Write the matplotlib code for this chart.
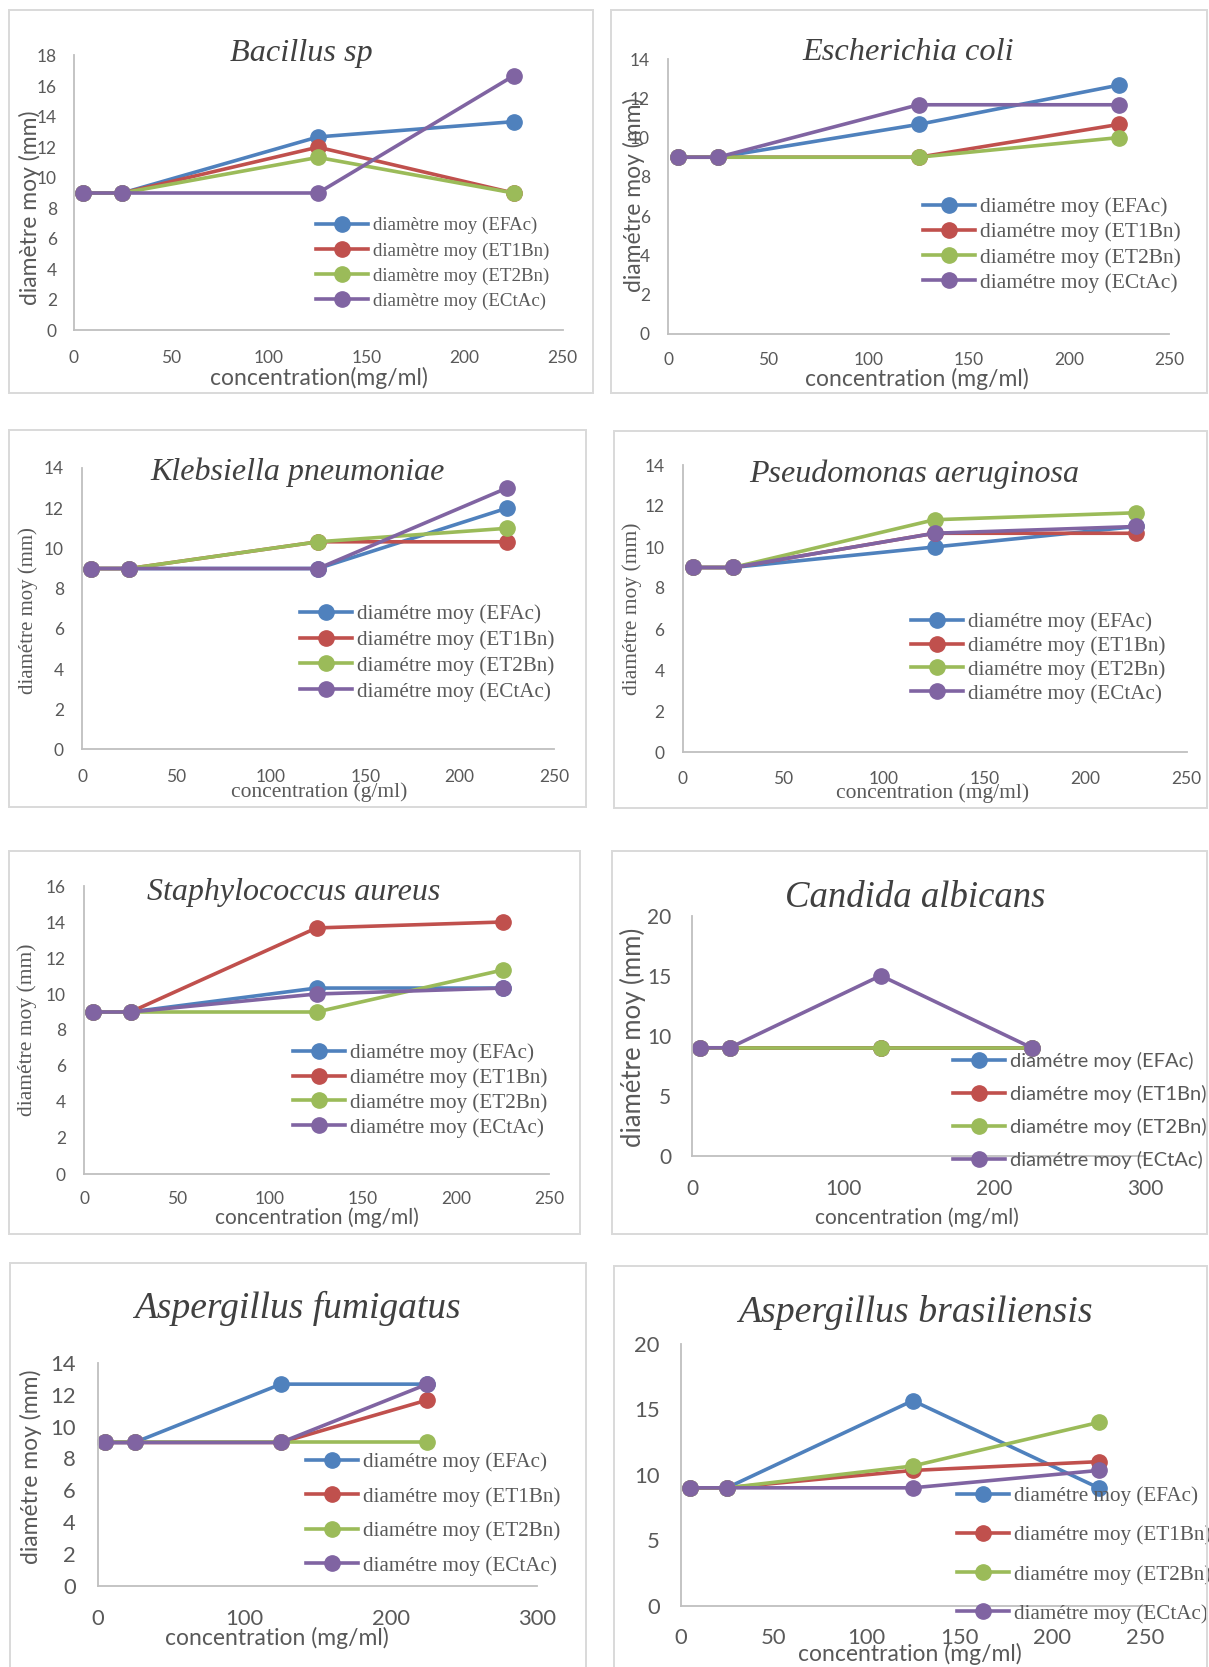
import matplotlib
matplotlib.use("Agg")
import matplotlib.pyplot as plt
from matplotlib.patches import Rectangle

W, H = 1209, 1667
SANS = "Lato"
SERIF = "Liberation Serif"

conc = [5, 25, 125, 225]
extracts = ["EFAc", "ET1Bn", "ET2Bn", "ECtAc"]
colors = ["#4F81BD", "#C0504D", "#9BBB59", "#8064A2"]

# mean inhibition diameter (mm), one list per extract: EFAc, ET1Bn, ET2Bn, ECtAc
bacillus = [[9, 9, 12.67, 13.67], [9, 9, 12, 9], [9, 9, 11.33, 9], [9, 9, 9, 16.67]]
ecoli = [[9, 9, 10.67, 12.67], [9, 9, 9, 10.67], [9, 9, 9, 10], [9, 9, 11.67, 11.67]]
klebsiella = [[9, 9, 9, 12], [9, 9, 10.33, 10.33], [9, 9, 10.33, 11], [9, 9, 9, 13]]
pseudomonas = [[9, 9, 10, 11], [9, 9, 10.67, 10.67], [9, 9, 11.33, 11.67], [9, 9, 10.67, 11]]
staph = [[9, 9, 10.33, 10.33], [9, 9, 13.67, 14], [9, 9, 9, 11.33], [9, 9, 10, 10.33]]
candida = [[9, 9, 9, 9], [9, 9, 9, 9], [9, 9, 9, 9], [9, 9, 15, 9]]
fumigatus = [[9, 9, 12.67, 12.67], [9, 9, 9, 11.67], [9, 9, 9, 9], [9, 9, 9, 12.67]]
brasiliensis = [[9, 9, 15.67, 9], [9, 9, 10.33, 11], [9, 9, 10.67, 14], [9, 9, 9, 10.33]]

# layout, in pixels of the 1209x1667 picture
panels = [
    dict(data=bacillus, title="Bacillus sp", prefix="diamètre moy",
         ylabel="diamètre moy (mm)", xlabel="concentration(mg/ml)",
         ymax=18, ystep=2, xmax=250, xstep=50,
         box=(8.5, 10.5, 593, 393.5), ax=(73.5, 562.5, 330.5, 55.5),
         title_at=(301, 61, 23.2), ylab_at=(30, 208, 16.5, SANS),
         xlab_at=(319, 378, 16.5, SANS), leg=(316, 225, 302, 13.6, SERIF),
         tick=12.5, xpad=14, ypad=12),
    dict(data=ecoli, title="Escherichia coli", prefix="diamétre moy",
         ylabel="diamétre moy (mm)", xlabel="concentration (mg/ml)",
         ymax=14, ystep=2, xmax=250, xstep=50,
         box=(611, 10.5, 1207, 393.5), ax=(668, 1169, 334, 59),
         title_at=(908, 60, 23.3), ylab_at=(634, 195, 16.5, SANS),
         xlab_at=(917, 379, 16.5, SANS), leg=(923, 207, 283, 15.5, SERIF),
         tick=12.5, xpad=13, ypad=13),
    dict(data=klebsiella, title="Klebsiella pneumoniae", prefix="diamétre moy",
         ylabel="diamétre moy (mm)", xlabel="concentration (g/ml)",
         ymax=14, ystep=2, xmax=250, xstep=50,
         box=(8.5, 430.5, 585.5, 806.5), ax=(82, 554, 749.5, 468),
         title_at=(298, 480, 23), ylab_at=(28, 611, 15, SERIF),
         xlab_at=(319, 792, 15.5, SERIF), leg=(300, 614, 692, 15.2, SERIF),
         tick=12.5, xpad=14, ypad=13),
    dict(data=pseudomonas, title="Pseudomonas aeruginosa", prefix="diamétre moy",
         ylabel="diamétre moy (mm)", xlabel="concentration (mg/ml)",
         ymax=14, ystep=2, xmax=250, xstep=50,
         box=(613.5, 431.5, 1207, 808), ax=(682.5, 1186.5, 752, 465),
         title_at=(914, 482, 23), ylab_at=(632, 609, 15.5, SERIF),
         xlab_at=(933, 793, 15.5, SERIF), leg=(911, 622, 694, 15.2, SERIF),
         tick=12.5, xpad=13.5, ypad=13),
    dict(data=staph, title="Staphylococcus aureus", prefix="diamétre moy",
         ylabel="diamétre moy (mm)", xlabel="concentration (mg/ml)",
         ymax=16, ystep=2, xmax=250, xstep=50,
         box=(8.5, 850.5, 580, 1233.5), ax=(84, 549, 1174, 886),
         title_at=(294, 900, 23), ylab_at=(27, 1030, 15.5, SERIF),
         xlab_at=(317, 1218, 15, SANS), leg=(293, 1053, 1128, 15.2, SERIF),
         tick=12.5, xpad=12.5, ypad=13),
    dict(data=candida, title="Candida albicans", prefix="diamétre moy",
         ylabel="diamétre moy (mm)", xlabel="concentration (mg/ml)",
         ymax=20, ystep=5, xmax=300, xstep=100,
         box=(611.5, 851, 1207, 1233.5), ax=(692, 1145, 1156, 915.5),
         title_at=(915, 907, 26.5), ylab_at=(633, 1037, 18.5, SANS),
         xlab_at=(917, 1218, 15, SANS), leg=(953, 1060, 1161, 14.5, SANS),
         tick=15, xpad=16.5, ypad=15),
    dict(data=fumigatus, title="Aspergillus fumigatus", prefix="diamétre moy",
         ylabel="diamétre moy (mm)", xlabel="concentration (mg/ml)",
         ymax=14, ystep=2, xmax=300, xstep=100,
         box=(10, 1263, 586, 1720), ax=(98, 537, 1585.5, 1363),
         title_at=(297, 1318, 27), ylab_at=(31, 1467, 16.5, SANS),
         xlab_at=(277, 1638, 16.5, SANS), leg=(306, 1462, 1566, 15.2, SERIF),
         tick=15.8, xpad=17, ypad=16),
    dict(data=brasiliensis, title="Aspergillus brasiliensis", prefix="diamétre moy",
         ylabel=None, xlabel="concentration (mg/ml)",
         ymax=20, ystep=5, xmax=250, xstep=50,
         box=(614, 1266, 1207, 1720), ax=(680.5, 1145, 1605.5, 1344),
         title_at=(915, 1322, 27.2), ylab_at=None,
         xlab_at=(910, 1654, 16.5, SANS), leg=(957, 1496, 1614, 15.2, SERIF),
         tick=15.8, xpad=16.5, ypad=15),
]


def fx(px):
    return px / W


def fy(py):
    return 1 - py / H


plt.rcParams["font.family"] = [SANS, "DejaVu Sans"]
fig = plt.figure(figsize=(W / 100, H / 100), dpi=100)

for p in panels:
    l, t, r, b = p["box"]
    fig.add_artist(Rectangle((fx(l), fy(b)), (r - l) / W, (b - t) / H,
                             transform=fig.transFigure, fill=False,
                             edgecolor="#D9D9D9", linewidth=1.4))

    x0, x1, y0, y1 = p["ax"]
    ax = fig.add_axes([fx(x0), fy(y0), (x1 - x0) / W, (y0 - y1) / H])
    ax.patch.set_alpha(0)
    for series, name, c in zip(p["data"], extracts, colors):
        ax.plot(conc, series, color=c, linewidth=2.6, marker="o",
                markersize=11, clip_on=False,
                label=f"{p['prefix']} ({name})")

    ax.set_xlim(0, p["xmax"])
    ax.set_ylim(0, p["ymax"])
    ax.set_xticks(range(0, p["xmax"] + 1, p["xstep"]))
    ax.set_yticks(range(0, p["ymax"] + 1, p["ystep"]))
    ax.tick_params(axis="x", length=0, pad=p["xpad"], labelsize=p["tick"],
                   labelcolor="#595959")
    ax.tick_params(axis="y", length=0, pad=p["ypad"], labelsize=p["tick"],
                   labelcolor="#595959")
    for side in ("top", "right"):
        ax.spines[side].set_visible(False)
    for side in ("left", "bottom"):
        ax.spines[side].set_color("#BFBFBF")
        ax.spines[side].set_linewidth(1.3)

    tx, ty, ts = p["title_at"]
    fig.text(fx(tx), fy(ty), p["title"], ha="center", va="baseline",
             fontsize=ts, style="italic", family=SERIF, color="#404040")

    if p["ylabel"]:
        lx, ly, ls, lf = p["ylab_at"]
        fig.text(fx(lx), fy(ly), p["ylabel"], ha="center", va="center",
                 rotation=90, fontsize=ls, family=lf, color="#595959")
    lx, ly, ls, lf = p["xlab_at"]
    fig.text(fx(lx), fy(ly), p["xlabel"], ha="center", va="center",
             fontsize=ls, family=lf, color="#595959")

    hx, r1, r4, fs, ff = p["leg"]
    fpx = fs * 100 / 72
    pitch = (r4 - r1) / 3
    leg = ax.legend(loc="center left",
                    bbox_to_anchor=(fx(hx), fy((r1 + r4) / 2)),
                    bbox_transform=fig.transFigure, frameon=False,
                    borderpad=0, borderaxespad=0,
                    handlelength=52 / fpx, handletextpad=5 / fpx,
                    labelspacing=max(pitch / fpx - 0.94, 0),
                    prop={"family": ff, "size": fs})
    for txt in leg.get_texts():
        txt.set_color("#595959")

fig.savefig("out.png", dpi=100)
